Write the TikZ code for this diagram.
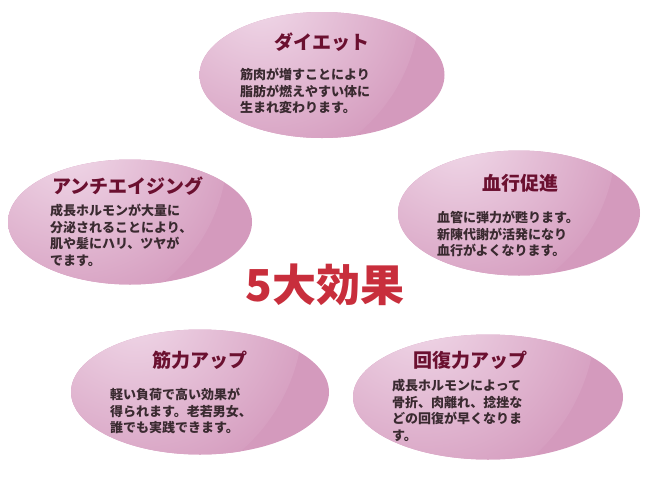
\documentclass[tikz,border=0pt]{standalone}
\usepackage{fontspec}
\setmainfont{Noto Sans CJK JP}
\usetikzlibrary{shapes.geometric}
\definecolor{pinkL}{HTML}{F0D8E8}
\definecolor{pinkD}{HTML}{D49ABD}
\definecolor{ttl}{HTML}{6B1030}
\definecolor{bdy}{HTML}{3A2A30}
\definecolor{ctr}{HTML}{C82E3C}
\tikzset{
 blob/.style={ellipse,minimum width=#1,fill=pinkD,inner sep=0pt,
  path picture={\shade[inner color=pinkL,outer color=pinkD]
   ([xshift=-0.3*#1,yshift=0.3*#1]path picture bounding box.center) circle (0.7*#1);}},
 ttlt/.style={font=\fontsize{19}{22}\selectfont\bfseries,text=ttl},
 bodyt/.style={font=\fontsize{13}{16.5}\selectfont\bfseries,text=bdy,align=left,anchor=north west,inner sep=0pt}
}
\begin{document}
\begin{tikzpicture}[x=1pt,y=-1pt]
\useasboundingbox (0,0) rectangle (649,480);
\node[blob=245pt,minimum height=126pt] (e1) at (322,75) {};
\node[blob=244pt,minimum height=125pt] (e2) at (130,222) {};
\node[blob=242pt,minimum height=125pt] (e3) at (519,213) {};
\node[blob=258pt,minimum height=125pt] (e4) at (200,392) {};
\node[blob=270pt,minimum height=125pt] (e5) at (488,397) {};
\node[ttlt] (t1) at (322,42) {ダイエット};
\node[bodyt] (b1) at (240,68) {筋肉が増すことにより\\脂肪が燃えやすい体に\\生まれ変わります。};
\node[ttlt] (t2) at (128,186) {アンチエイジング};
\node[bodyt] (b2) at (50,204) {成長ホルモンが大量に\\分泌されることにより、\\肌や髪にハリ、ツヤが\\でます。};
\node[ttlt] (t3) at (520,183) {血行促進};
\node[bodyt] (b3) at (437,211) {血管に弾力が甦ります。\\新陳代謝が活発になり\\血行がよくなります。};
\node[ttlt] (t4) at (200,360) {筋力アップ};
\node[bodyt] (b4) at (110,388) {軽い負荷で高い効果が\\得られます。老若男女、\\誰でも実践できます。};
\node[ttlt] (t5) at (470,360) {回復力アップ};
\node[bodyt] (b5) at (392,379) {成長ホルモンによって\\骨折、肉離れ、捻挫な\\どの回復が早くなりま\\す。};
\node[font=\fontsize{44}{50}\selectfont\bfseries,text=ctr] (c) at (325,285) {5大効果};
\end{tikzpicture}
\end{document}
